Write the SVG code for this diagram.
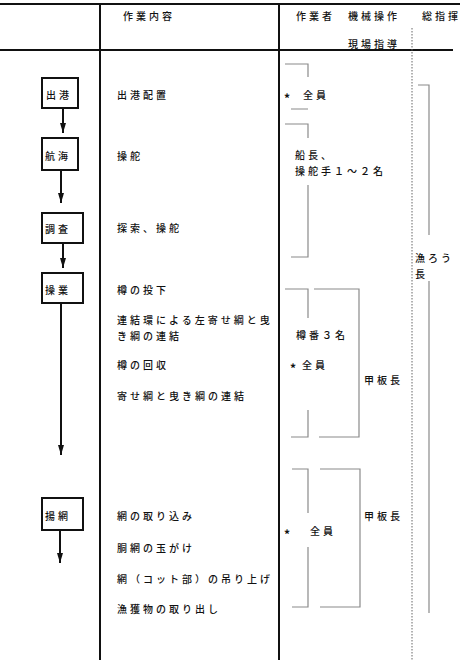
<svg xmlns="http://www.w3.org/2000/svg" width="463" height="666" viewBox="0 0 463 666">
<style>
text{font-family:"Noto Sans CJK JP","Noto Sans",sans-serif;font-size:10px;font-weight:500;letter-spacing:3px;fill:#111;dominant-baseline:central}
.ast{font-size:12px;font-weight:700}
.rule{stroke:#111;stroke-width:2;fill:none}
.dot{stroke:#666;stroke-width:1;stroke-dasharray:1.5 1.5;fill:none}
.br{stroke:#8a8a8a;stroke-width:1.2;fill:none}
.box{fill:#fff;stroke:#111;stroke-width:2}
.arr{stroke:#111;stroke-width:2;fill:none;marker-end:url(#ah)}
</style>
<defs>
<marker id="ah" viewBox="0 -3 10 6" refX="10" refY="0" markerWidth="10" markerHeight="6" markerUnits="userSpaceOnUse" orient="auto">
<path d="M0,-3 L10,0 L0,3 z" fill="#111"/>
</marker>
</defs>
<rect width="463" height="666" fill="#fff"/>
<g id="table">
<line class="rule" x1="0" y1="4" x2="460" y2="4"/>
<line class="rule" x1="0" y1="50" x2="453" y2="50"/>
<line class="rule" x1="100" y1="4" x2="100" y2="660"/>
<line class="rule" x1="279" y1="4" x2="279" y2="660"/>
<line class="dot" x1="412" y1="28" x2="412" y2="660"/>
<text x="123" y="15">作業内容</text>
<text x="296" y="15">作業者</text>
<text x="348" y="15">機械操作</text>
<text x="348" y="43">現場指導</text>
<text x="422" y="15">総指揮</text>
</g>
<g id="connectors">
<line class="arr" x1="63" y1="108" x2="63" y2="133"/>
<line class="arr" x1="61" y1="170" x2="61" y2="203"/>
<line class="arr" x1="63" y1="243" x2="63" y2="268"/>
<line class="arr" x1="61" y1="303" x2="61" y2="455"/>
<line class="arr" x1="60" y1="530" x2="60" y2="563"/>
</g>
<g id="n-shukko"><rect class="box" x="42" y="78" width="36" height="30"/><text x="46" y="94">出港</text></g>
<g id="n-kokai"><rect class="box" x="42" y="138" width="36" height="32"/><text x="45" y="155">航海</text></g>
<g id="n-chosa"><rect class="box" x="42" y="213" width="41" height="30"/><text x="45" y="228">調査</text></g>
<g id="n-sogyo"><rect class="box" x="42" y="273" width="41" height="30"/><text x="45" y="289">操業</text></g>
<g id="n-youmou"><rect class="box" x="42" y="498" width="41" height="32"/><text x="45" y="515">揚網</text></g>
<g id="tasks">
<text x="117" y="94">出港配置</text>
<text x="117" y="155">操舵</text>
<text x="117" y="227">探索、操舵</text>
<text x="117" y="289">樽の投下</text>
<text x="117" y="319">連結環による左寄せ綱と曳</text>
<text x="117" y="335">き綱の連結</text>
<text x="117" y="364">樽の回収</text>
<text x="117" y="395">寄せ綱と曳き綱の連結</text>
<text x="117" y="515">網の取り込み</text>
<text x="117" y="547">胴網の玉がけ</text>
<text x="117" y="578">網（コット部）の吊り上げ</text>
<text x="117" y="608">漁獲物の取り出し</text>
</g>
<g id="workers">
<path class="br" d="M285,64 H308 V77 M291,109 H308"/>
<text class="ast" x="284" y="97">*</text><text x="303" y="94">全員</text>
<path class="br" d="M285,124 H308 V138 M308,185 V257 H291"/>
<text x="295" y="154">船長、</text>
<text x="295" y="170">操舵手１～２名</text>
<path class="br" d="M285,289 H308 V318 M308,410 V437 H291"/>
<path class="br" d="M314,289 H359 V437 H319"/>
<text x="296" y="334">樽番３名</text>
<text class="ast" x="290" y="367">*</text><text x="302" y="364">全員</text>
<text x="364" y="379">甲板長</text>
<path class="br" d="M292,469 H308 V513 M308,547 V607 H292"/>
<path class="br" d="M320,469 H360 V607 H320"/>
<text class="ast" x="284" y="533">*</text><text x="310" y="530">全員</text>
<text x="364" y="515">甲板長</text>
</g>
<g id="commander">
<path class="br" d="M418,85 H429 V235 M429,281 V613"/>
<text x="415" y="257">漁ろう</text>
<text x="415" y="273">長</text>
</g>
</svg>
